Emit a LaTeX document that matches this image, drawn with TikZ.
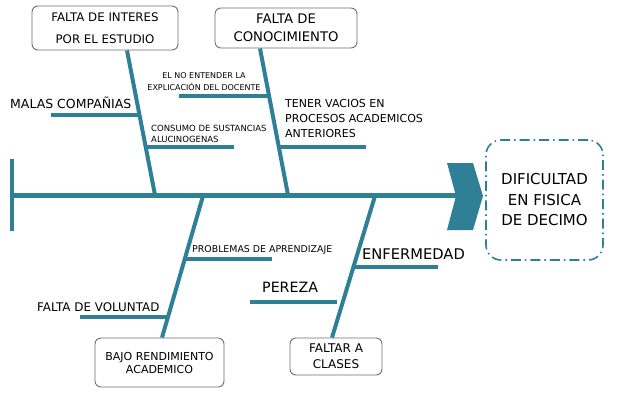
\documentclass[tikz,border=0pt]{standalone}
\usepackage{fontspec}
\setmainfont{DejaVu Sans}
\definecolor{fishteal}{RGB}{47,128,150}
\definecolor{boxgray}{RGB}{110,110,110}
\newcommand{\fs}[2]{\fontsize{#1}{#2}\selectfont}
\begin{document}
\begin{tikzpicture}[x=1pt,y=-1pt,
  bone/.style={draw=fishteal,line width=4pt},
  rib/.style={draw=fishteal,line width=3.5pt},
  spine/.style={draw=fishteal,line width=4.5pt},
  cbox/.style={draw=boxgray,line width=0.9pt,rounded corners=6pt,align=center,inner sep=0pt},
  lbl/.style={inner sep=0pt,align=left,text=black}]
\useasboundingbox (0,0) rectangle (620,402);

% boxes
\node[cbox,minimum width=146pt,minimum height=44pt,font=\fs{11.8}{22}] (box1) at (105,28) {FALTA DE INTERES\\POR EL ESTUDIO};
\node[cbox,minimum width=142pt,minimum height=40pt,font=\fs{13.2}{18}] (box2) at (286,28) {FALTA DE\\CONOCIMIENTO};
\node[cbox,minimum width=129pt,minimum height=49pt,font=\fs{11}{13}] (box3) at (159.5,362.5) {BAJO RENDIMIENTO\\ACADEMICO};
\node[cbox,minimum width=92pt,minimum height=37pt,font=\fs{12}{16}] (box4) at (336,356.5) {FALTAR A\\CLASES};
\node[draw=fishteal,line width=1.6pt,rounded corners=15pt,dash pattern=on 10pt off 4pt on 1.5pt off 4pt,
      minimum width=117pt,minimum height=120pt,align=center,inner sep=0pt,font=\fs{15}{20.5}] (effect) at (544.5,200) {DIFICULTAD\\EN FISICA\\DE DECIMO};

% spine and head
\coordinate (tailtop) at (12,159);
\coordinate (tailbot) at (12,231);
\coordinate (spinestart) at (12,195.5);
\coordinate (spineend) at (456,195.5);
\draw[spine] (tailtop) -- (tailbot);
\draw[spine] (spinestart) -- (spineend);
\fill[fishteal] (447,163) -- (473,163) -- (483,196) -- (473,230) -- (447,230) -- (456,196) -- cycle;

% joints on the spine
\coordinate (s1) at (155,195);
\coordinate (s2) at (288,195);
\coordinate (s3) at (203,196);
\coordinate (s4) at (375,196);

% bones
\draw[bone] ([xshift=22pt]box1.south) -- (s1);
\draw[bone] ([xshift=-26pt]box2.south) -- (s2);
\draw[bone] (s3) -- ([xshift=2.5pt]box3.north);
\draw[bone] (s4) -- ([xshift=-4pt]box4.north);

% rib points
\coordinate (r1a) at (51,115);   \coordinate (r1b) at (139.2,115);
\coordinate (r2a) at (179,96);   \coordinate (r2b) at (268.9,96);
\coordinate (r3a) at (145.5,147);\coordinate (r3b) at (234,147);
\coordinate (r4a) at (278.7,147);\coordinate (r4b) at (366,147);
\coordinate (r5a) at (184.5,259);\coordinate (r5b) at (272,259);
\coordinate (r6a) at (80,317);   \coordinate (r6b) at (167.8,317);
\coordinate (r7a) at (353.4,267);\coordinate (r7b) at (438,267);
\coordinate (r8a) at (250,302);  \coordinate (r8b) at (337,302);
\draw[rib] (r1a) -- (r1b);
\draw[rib] (r2a) -- (r2b);
\draw[rib] (r3a) -- (r3b);
\draw[rib] (r4a) -- (r4b);
\draw[rib] (r5a) -- (r5b);
\draw[rib] (r6a) -- (r6b);
\draw[rib] (r7a) -- (r7b);
\draw[rib] (r8a) -- (r8b);

% labels
\node[lbl,anchor=base west,font=\fs{12.5}{15}] (malas) at (10,108) {MALAS COMPAÑIAS};
\node[lbl,anchor=north,align=center,font=\fs{8}{12}] (noent) at (204,72) {EL NO ENTENDER LA\\EXPLICACIÓN DEL DOCENTE};
\node[lbl,anchor=north west,font=\fs{8.5}{11}] (consumo) at (151,125) {CONSUMO DE SUSTANCIAS\\ALUCINOGENAS};
\node[lbl,anchor=north west,font=\fs{11}{15}] (tener) at (285,99) {TENER VACIOS EN\\PROCESOS ACADEMICOS\\ANTERIORES};
\node[lbl,anchor=base west,font=\fs{9.4}{12}] (problemas) at (192,252) {PROBLEMAS DE APRENDIZAJE};
\node[lbl,anchor=base west,font=\fs{11.9}{14}] (voluntad) at (37,311) {FALTA DE VOLUNTAD};
\node[lbl,anchor=base west,font=\fs{14.7}{17}] (enfermedad) at (362,259) {ENFERMEDAD};
\node[lbl,anchor=base west,font=\fs{14.2}{17}] (pereza) at (262,292) {PEREZA};
\end{tikzpicture}
\end{document}
